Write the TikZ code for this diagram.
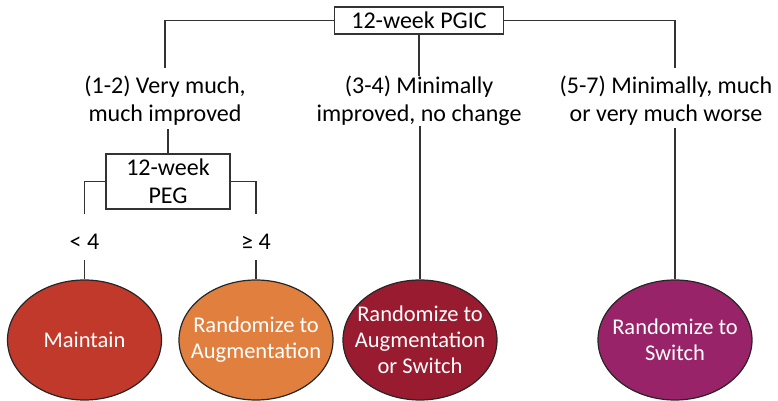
\documentclass[tikz,border=0pt]{standalone}
\usepackage{fontspec}
\setmainfont{Carlito}
\usepackage{tikz}
\usetikzlibrary{shapes.geometric,calc}

\definecolor{maintred}{RGB}{192,57,43}
\definecolor{augorange}{RGB}{225,128,62}
\definecolor{bothred}{RGB}{152,27,48}
\definecolor{swtpurple}{RGB}{153,35,104}

\tikzset{
  box/.style={draw=black!80, line width=1.2pt, inner sep=0pt, align=center, font=\fontsize{24}{28}\selectfont},
  lbl/.style={inner sep=0pt, align=center, font=\fontsize{24}{28}\selectfont},
  arm/.style={ellipse, draw=black!85, line width=1.2pt, minimum width=154pt, minimum height=120pt,
    inner sep=-14pt, align=center, text=white, font=\fontsize{22.5}{26}\selectfont},
}

\begin{document}
\begin{tikzpicture}[x=1pt,y=-1pt,line width=1.2pt,draw=black!80]
\useasboundingbox (0,0) rectangle (778,401);
% Top decision
\node[box, minimum width=169pt, minimum height=27pt] (pgic) at (419,20.5) {12-week PGIC};
\node[lbl] (much) at (165,101) {(1-2) Very much,\\much improved};
\node[lbl] (mid) at (419,101) {(3-4) Minimally\\improved, no change};
\node[lbl] (worse) at (666,101) {(5-7) Minimally, much\\or very much worse};

% Second decision
\node[box, minimum width=124pt, minimum height=55pt] (peg) at (168,181.5) {12-week\\PEG};
\node[lbl] (lt) at (84.5,242) {< 4};
\node[lbl] (ge) at (256,242) {≥ 4};

% Arms
\node[arm, fill=maintred] (maint) at (84.5,340) {Maintain};
\node[arm, fill=augorange] (aug) at (256,340) {Randomize to\\Augmentation};
\node[arm, fill=bothred] (both) at (420,340) {Randomize to\\Augmentation\\or Switch};
\node[arm, fill=swtpurple] (swt) at (675,340) {Randomize to\\Switch};

% Connectors
\draw[shorten >=7.5pt] (pgic.west) -| (much.north);
\draw[shorten >=7.5pt] (pgic.east) -| (worse.north -| swt.north);
\draw (pgic.south) -- (mid.north);
\draw[shorten <=3pt] (much.south -| peg.north) -- (peg.north);
\draw[shorten >=20pt] (peg.west) -| (lt.north);
\draw[shorten >=20pt] (peg.east) -| (ge.north);
\draw[shorten <=10pt] (lt.south) -- (maint.north);
\draw[shorten <=10pt] (ge.south) -- (aug.north);
\draw[shorten <=2pt] (mid.south) -- (mid.south -| both.north) -- (both.north);
\draw[shorten <=2pt] (worse.south -| swt.north) -- (swt.north);
\end{tikzpicture}
\end{document}
